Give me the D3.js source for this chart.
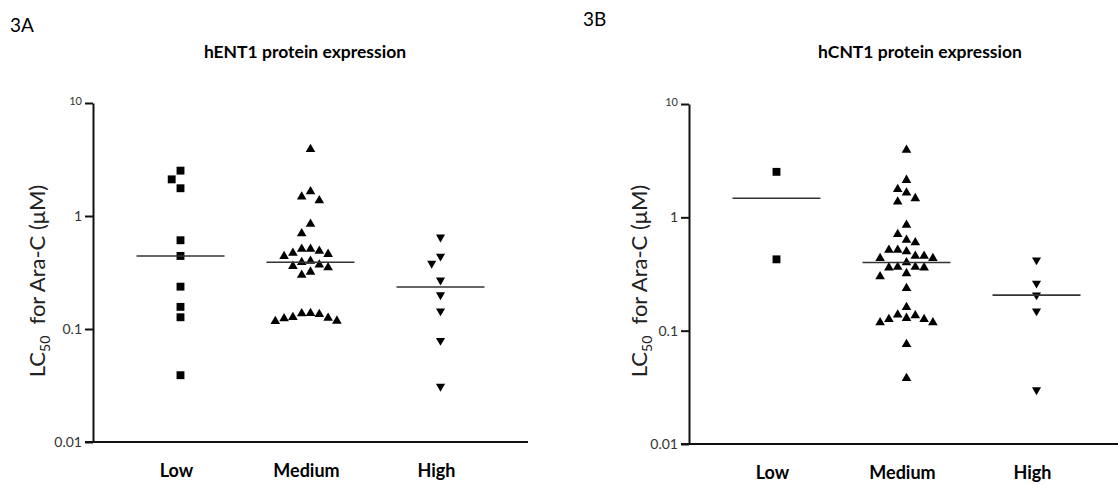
<!DOCTYPE html>
<html lang="en">
<head>
    <meta charset="UTF-8">
    <title>Figure 3 - LC50 for Ara-C by protein expression</title>
    <script src="https://d3js.org/d3.v7.min.js"></script>
    <style>
        body { margin: 0; background: #fff; }
        svg { display: block; font-family: Lato, "Open Sans", sans-serif; }
    </style>
</head>
<body>
    <script>
        // data (LC50 in µM)
        const categories = ["Low", "Medium", "High"];
        const yTicks = [0.01, 0.1, 1, 10];

        // 3A - hENT1
        const hent1Low = [2.52, 2.11, 1.76, 0.61, 0.443, 0.237, 0.157, 0.127, 0.039];
        const hent1Medium = [3.9, 1.65, 1.48, 1.37, 0.85, 0.70, 0.51, 0.51, 0.49, 0.47, 0.46, 0.44, 0.40,
            0.39, 0.37, 0.36, 0.35, 0.32, 0.30, 0.135, 0.125, 0.124, 0.118, 0.117, 0.127, 0.137, 0.138];
        const hent1High = [0.65, 0.44, 0.38, 0.27, 0.20, 0.144, 0.079, 0.031];

        // 3B - hCNT1
        const hcnt1Low = [2.52, 0.426];
        const hcnt1Medium = [3.92, 2.13, 1.77, 1.65, 1.47, 1.37, 0.855, 0.71, 0.63, 0.60, 0.515, 0.515, 0.50,
            0.456, 0.456, 0.435, 0.435, 0.40, 0.365, 0.365, 0.36, 0.36, 0.32, 0.30, 0.237, 0.161,
            0.136, 0.126, 0.126, 0.118, 0.118, 0.129, 0.138, 0.076, 0.038];
        const hcnt1High = [0.42, 0.262, 0.206, 0.149, 0.030];

        const w = 1118;
        const h = 486;
        const svg = d3.select("body")
            .append("svg")
            .attr("width", w)
            .attr("height", h);

        const symbols = [
            d3.symbol().type(d3.symbolSquare).size(62),
            d3.symbol().type(d3.symbolTriangle).size(40),
            d3.symbol().type(d3.symbolTriangle).size(36)
        ];

        // simple beeswarm: points that would overlap get pushed sideways
        function swarm(values, y, minDy) {
            const pts = values.map(v => ({ v: v, py: y(v) })).sort((a, b) => a.py - b.py);
            const placed = [];
            pts.forEach(p => {
                for (let k = 0; ; k++) {
                    const off = k === 0 ? 0 : (k % 2 ? -Math.ceil(k / 2) : k / 2);
                    if (!placed.some(q => q.off === off && Math.abs(q.py - p.py) < minDy)) {
                        p.off = off;
                        placed.push(p);
                        break;
                    }
                }
            });
            return placed;
        }

        function panel(p) {
            const g = svg.append("g");
            const y = d3.scaleLog().domain([0.01, 10]).range([p.bottom, p.top]);
            const x = d3.scalePoint().domain(categories)
                .range([p.axisX, p.axisX + p.width]).padding(0.673);

            // y axis
            const yAxis = g.append("g")
                .attr("transform", "translate(" + p.axisX + ",0)")
                .call(d3.axisLeft(y).tickValues(yTicks).tickSize(8).tickSizeOuter(0)
                    .tickFormat(d => String(d)));
            yAxis.attr("font-family", null).attr("font-size", 14);
            yAxis.select(".domain").attr("stroke", "#111").attr("stroke-width", 2);
            yAxis.selectAll(".tick line").attr("stroke", "#111").attr("stroke-width", 2);
            yAxis.selectAll(".tick text")
                .attr("x", -11)
                .attr("fill", "#333")
                .attr("font-size", d => d === 10 ? 11 : 14)
                .attr("dy", d => d === 10 ? "0.1em" : "0.32em");

            // x axis line
            g.append("line")
                .attr("x1", p.axisX - 8).attr("x2", p.axisX + p.width)
                .attr("y1", y(0.01)).attr("y2", y(0.01))
                .attr("stroke", "#111").attr("stroke-width", 2);

            g.selectAll(".cat")
                .data(categories)
                .enter()
                .append("text")
                .attr("x", d => x(d) - 4)
                .attr("y", p.bottom + 35)
                .attr("text-anchor", "middle")
                .style("font-size", "18px")
                .style("font-weight", "bold")
                .text(d => d);

            // points + median lines
            p.series.forEach((vals, i) => {
                const cx = x(categories[i]);
                const pts = swarm(vals, y, 10);
                g.selectAll(".pt" + i)
                    .data(pts)
                    .enter()
                    .append("path")
                    .attr("d", symbols[i])
                    .attr("transform", d => "translate(" + (cx + d.off * 8.8) + "," + d.py + ")" +
                        (i === 2 ? " rotate(180)" : ""))
                    .attr("fill", "#000");
                const m = d3.median(vals);
                g.append("line")
                    .attr("x1", cx - 44).attr("x2", cx + 44)
                    .attr("y1", y(m)).attr("y2", y(m))
                    .attr("stroke", "#333").attr("stroke-width", 1.6);
            });

            // titles
            g.append("text")
                .attr("x", p.tagX).attr("y", p.tagY)
                .style("font-size", "19px")
                .text(p.tag);
            g.append("text")
                .attr("x", p.titleX).attr("y", 58)
                .attr("text-anchor", "middle")
                .style("font-size", "17.5px")
                .style("font-weight", "bold")
                .text(p.title);

            // y label with subscript
            const lab = g.append("text")
                .attr("transform", "translate(" + p.labelX + "," + 281 + ") rotate(-90)")
                .attr("text-anchor", "middle")
                .attr("fill", "#222")
                .style("font-size", "22px");
            lab.append("tspan").text("LC");
            lab.append("tspan").attr("dy", 5).style("font-size", "14px").text("50");
            lab.append("tspan").attr("dy", -5).text("\u00a0\u00a0for Ara-C (\u03bcM)");
        }

        panel({ axisX: 93, width: 435, top: 103, bottom: 442, tag: "3A", tagX: 10, tagY: 32,
            title: "hENT1 protein expression", titleX: 305, labelX: 45,
            series: [hent1Low, hent1Medium, hent1High] });
        panel({ axisX: 689, width: 435, top: 104, bottom: 444, tag: "3B", tagX: 583, tagY: 26,
            title: "hCNT1 protein expression", titleX: 920, labelX: 647,
            series: [hcnt1Low, hcnt1Medium, hcnt1High] });
    </script>
</body>
</html>
